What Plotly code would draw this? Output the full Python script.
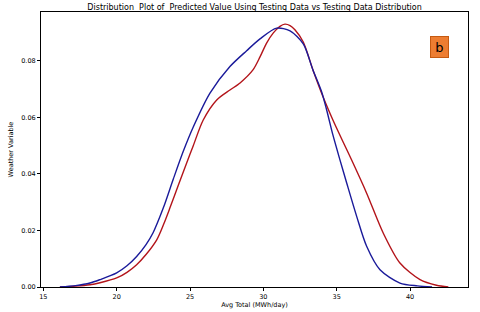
import plotly.graph_objects as go

# Testing data distribution (blue)
blue_x = [16.13, 17.2, 18.18, 18.86, 20.0, 20.7, 21.36, 22.0, 22.49, 23.18, 23.86, 24.54, 25.22, 26.36, 27.72,
          28.86, 29.77, 30.91, 31.82, 32.72, 33.38, 33.97, 34.31, 34.74, 35.22, 35.68, 36.36,
          37.04, 37.95, 39.31, 40.5, 41.5]
blue_y = [0.0, 0.0005, 0.0014, 0.0026, 0.0050, 0.0075, 0.0108, 0.0150, 0.0193, 0.0280, 0.0382, 0.0480, 0.0566, 0.0686, 0.0780,
          0.0836, 0.0878, 0.0916, 0.0906, 0.0860, 0.0768, 0.0691, 0.0627, 0.0538, 0.0450, 0.0368, 0.0250,
          0.0144, 0.0061, 0.0014, 0.0004, 0.0]

# Predicted values distribution (red)
red_x = [16.13, 17.2, 18.18, 18.86, 20.0, 20.7, 21.36, 22.0, 22.73, 23.2, 23.63, 24.2, 24.77, 25.22, 25.90, 26.82, 27.72,
         28.41, 29.29, 29.77, 30.22, 30.68, 31.13, 31.47, 31.82, 32.15, 32.72, 33.38, 34.06,
         34.74, 35.42, 36.01, 37.04, 38.17, 39.31, 40.68, 41.8, 42.61]
red_y = [0.0, 0.0003, 0.0008, 0.0015, 0.0032, 0.0052, 0.0079, 0.0115, 0.0167, 0.0222, 0.0280, 0.0360, 0.0439, 0.0500, 0.0591, 0.0662, 0.0697,
         0.0722, 0.0768, 0.0814, 0.0863, 0.0899, 0.0922, 0.0930, 0.0925, 0.0910, 0.0867, 0.0768, 0.0674,
         0.0591, 0.0515, 0.0450, 0.0332, 0.0191, 0.0085, 0.0026, 0.0006, 0.0]

x_ticks = [15, 20, 25, 30, 35, 40]
y_ticks = [0.0, 0.02, 0.04, 0.06, 0.08]

FONT = "DejaVu Sans"

fig = go.Figure()
fig.add_trace(go.Scatter(x=red_x, y=red_y, mode="lines",
                         line=dict(color="#b3141a", width=1.4, shape="spline", smoothing=0.8),
                         showlegend=False))
fig.add_trace(go.Scatter(x=blue_x, y=blue_y, mode="lines",
                         line=dict(color="#1a1a9a", width=1.4, shape="spline", smoothing=0.8),
                         showlegend=False))

axis_common = dict(showline=True, linecolor="black", linewidth=1, mirror=True,
                   ticks="outside", ticklen=3, tickwidth=1, tickcolor="black",
                   showgrid=False, zeroline=False, automargin=False,
                   tickfont=dict(family=FONT, size=6.5, color="black"))

fig.update_xaxes(range=[14.84, 43.95], tickvals=x_ticks, ticktext=[str(v) for v in x_ticks],
                 title=dict(text="Avg Total (MWh/day)", font=dict(family=FONT, size=6.5, color="black"),
                            standoff=2),
                 **axis_common)
fig.update_yaxes(range=[0, 0.0973], tickvals=y_ticks, ticktext=[f"{v:.2f}" for v in y_ticks],
                 title=dict(text="Weather Variable", font=dict(family=FONT, size=6.5, color="black"),
                            standoff=6),
                 **axis_common)

fig.add_annotation(x=0.934, y=0.873, xref="paper", yref="paper", xanchor="center", yanchor="middle",
                   text="b", showarrow=False,
                   font=dict(family=FONT, size=13, color="black"),
                   bgcolor="#ed7d31", bordercolor="#c55a11", borderwidth=1, borderpad=1,
                   width=15, height=18)

fig.update_layout(
    width=480, height=312,
    margin=dict(l=41, r=12, t=12, b=25, autoexpand=False),
    paper_bgcolor="white", plot_bgcolor="white",
    title=dict(text="Distribution  Plot of  Predicted Value Using Testing Data vs Testing Data Distribution",
               x=0.5304, xanchor="center", y=0.976, yanchor="middle",
               font=dict(family=FONT, size=8, color="black")),
)

fig.write_html("out.html", config={"displayModeBar": False},
               post_script="document.body.style.margin='0';document.body.style.padding='0';"
                           "document.documentElement.style.overflow='hidden';")
